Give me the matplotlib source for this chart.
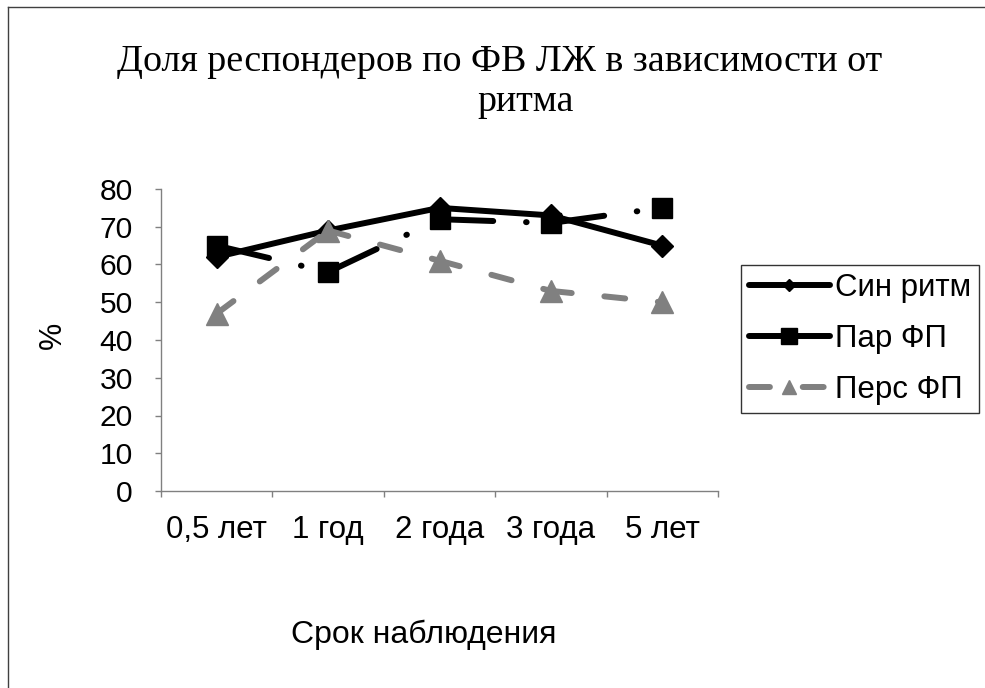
import matplotlib
matplotlib.use("Agg")
import matplotlib.pyplot as plt
from matplotlib.lines import Line2D

# ---- data ----
categories = ["0,5 лет", "1 год", "2 года", "3 года", "5 лет"]
sin_ritm = [62, 69, 75, 73, 65]
par_fp = [65, 58, 72, 71, 75]
pers_fp = [47, 69, 61, 53, 50]
series_names = ["Син ритм", "Пар ФП", "Перс ФП"]
y_ticks = [0, 10, 20, 30, 40, 50, 60, 70, 80]

title_lines = ["Доля респондеров по ФВ ЛЖ в зависимости от", "ритма"]
x_title = "Срок наблюдения"
y_title = "%"

# ---- figure ----
W, H = 985, 688
plt.rcParams['font.family'] = ['Liberation Sans', 'DejaVu Sans']
fig = plt.figure(figsize=(W / 100, H / 100), dpi=100)


def fx(px):
    return px / W


def fy(py):
    return 1 - py / H


ax = fig.add_axes([fx(161), fy(491), fx(718) - fx(161), fy(189) - fy(491)])

LW = 4.3
GRAY = '#808080'
AXC = '#808080'
par_dash = (9, 5.5, 0.1, 5.5)
pers_dash = (3.5, 5.5)

x = list(range(len(categories)))

# solid line for sinus rhythm
ax.plot(x, sin_ritm, color='black', lw=LW, solid_joinstyle='round',
        solid_capstyle='round', zorder=3)
ax.plot(x, sin_ritm, ls='none', marker='D', ms=10.7, color='black', zorder=3)

# dash-dot line (pattern restarts on every segment)
for i in range(len(x) - 1):
    ln, = ax.plot(x[i:i + 2], par_fp[i:i + 2], color='black', lw=LW,
                  dash_capstyle='round', zorder=4)
    ln.set_dashes(par_dash)
ax.plot(x, par_fp, ls='none', marker='s', ms=15, color='black', zorder=4)

# gray dashed line
for i in range(len(x) - 1):
    ln, = ax.plot(x[i:i + 2], pers_fp[i:i + 2], color=GRAY, lw=LW,
                  dash_capstyle='round', zorder=5)
    ln.set_dashes(pers_dash)
ax.plot(x, pers_fp, ls='none', marker='^', ms=15.5, color=GRAY, zorder=5)

# ---- axes ----
ax.set_xlim(-0.5, len(categories) - 0.5)
ax.set_ylim(0, 80)
for s in ('top', 'right'):
    ax.spines[s].set_visible(False)
for s in ('left', 'bottom'):
    ax.spines[s].set_color(AXC)
    ax.spines[s].set_linewidth(1)

ax.set_yticks(y_ticks)
ax.set_yticklabels([str(v) for v in y_ticks])
ax.tick_params(axis='y', direction='out', length=4.3, width=1, color=AXC,
               labelsize=21.6, pad=16)

ax.set_xticks([i - 0.5 for i in range(len(categories) + 1)])
ax.set_xticklabels([])
ax.set_xticks(x, minor=True)
ax.set_xticklabels(categories, minor=True)
ax.tick_params(axis='x', which='major', direction='out', length=4.3, width=1,
               color=AXC)
ax.tick_params(axis='x', which='minor', length=0, labelsize=22.5, pad=17)

# ---- legend ----
handles = [
    Line2D([], [], color='black', lw=LW, marker='D', ms=6.6,
           solid_capstyle='round'),
    Line2D([], [], color='black', lw=LW, marker='s', ms=11,
           solid_capstyle='round'),
    Line2D([], [], color=GRAY, lw=LW, marker='^', ms=10,
           dashes=pers_dash, dash_capstyle='round'),
]
leg = fig.legend(handles, series_names, loc='upper left',
                 bbox_to_anchor=(fx(741), fy(265)), borderaxespad=0,
                 fontsize=22.5, frameon=True, fancybox=False, shadow=False,
                 handlelength=2.6, handletextpad=0.15, borderpad=0.25,
                 labelspacing=0.68)
leg.get_frame().set_edgecolor('black')
leg.get_frame().set_linewidth(1)

# ---- texts ----
fig.text(fx(500), fy(62), title_lines[0], ha='center', va='center',
         fontsize=27.4, family='Liberation Serif')
fig.text(fx(526), fy(102), title_lines[1], ha='center', va='center',
         fontsize=27.4, family='Liberation Serif')
fig.text(fx(53), fy(335), y_title, rotation=90, ha='center', va='center',
         fontsize=22)
fig.text(fx(424), fy(635), x_title, ha='center', va='center', fontsize=23)

# outer chart border (top and left edges)
fig.add_artist(Line2D([fx(8), fx(8)], [fy(7), -0.1], transform=fig.transFigure,
                      color='#404040', lw=1))
fig.add_artist(Line2D([fx(8), 1.1], [fy(7), fy(7)], transform=fig.transFigure,
                      color='#404040', lw=1))

fig.savefig('out.png', dpi=100)
